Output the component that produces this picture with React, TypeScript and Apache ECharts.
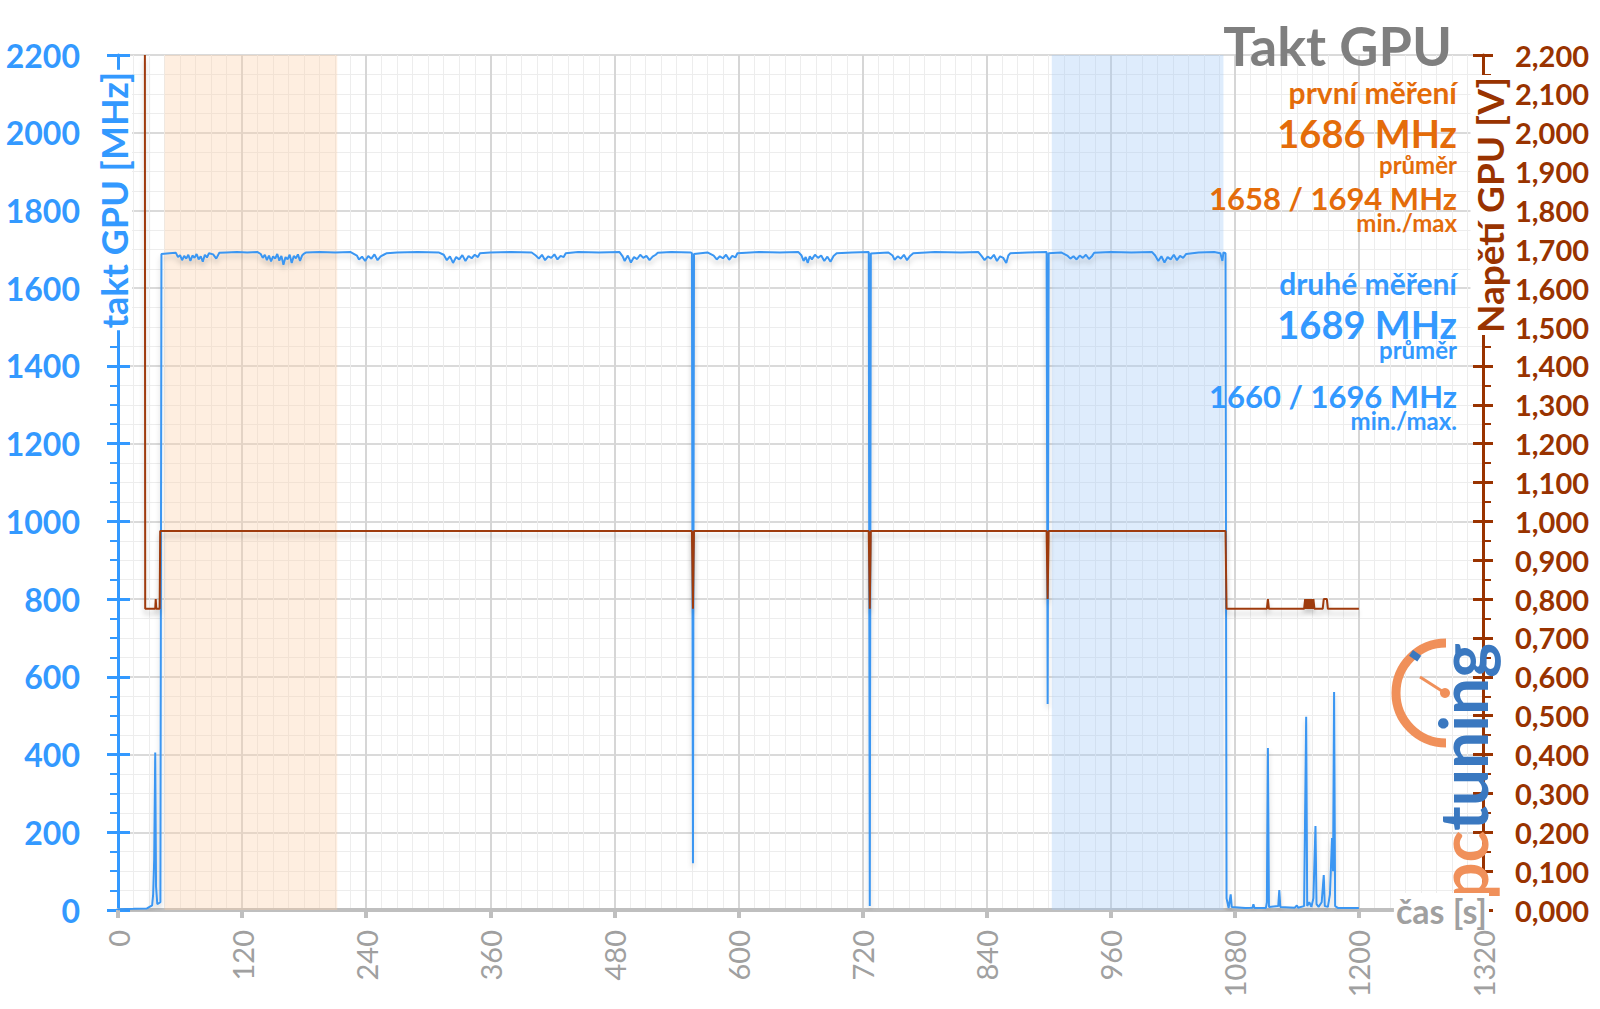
import React, { useEffect, useRef } from "react";
import * as echarts from "echarts";

const X_MAX = 1320;
const X_STEP = 120;
const CLOCK_MAX = 2200;
const CLOCK_STEP = 200;
const VOLT_MAX = 2.2;
const VOLT_STEP = 0.1;

// GPU clock [s, MHz]
const clockData: [number, number][] = [
  [0, 2], [15, 3], [28, 4], [33, 12], [34, 40], [35, 130], [36, 405], [36.8, 60], [38, 15], [41, 20], [42, 1688],
  [50, 1690], [56, 1691],
  [58, 1680], [60, 1685], [62, 1672], [64, 1683], [66, 1676], [68, 1686], [70, 1670], [72, 1684], [74, 1678],
  [76, 1688], [78, 1674], [80, 1682], [82, 1668], [84, 1686], [86, 1679], [88, 1690], [92, 1687], [95, 1676], [98, 1691],
  [105, 1692], [115, 1693], [125, 1692], [135, 1693],
  [138, 1688], [140, 1678], [142, 1686], [144, 1672], [146, 1684], [148, 1669], [150, 1682], [152, 1676], [154, 1688],
  [156, 1671], [158, 1683], [160, 1660], [162, 1680], [164, 1674], [166, 1686], [168, 1665], [170, 1683], [172, 1677],
  [174, 1687], [176, 1670], [178, 1684], [180, 1689], [182, 1692],
  [195, 1693], [210, 1692], [225, 1693],
  [231, 1684], [233, 1674], [236, 1681], [239, 1670], [242, 1683], [245, 1676], [248, 1687], [251, 1672], [254, 1682],
  [257, 1686], [260, 1690],
  [270, 1692], [290, 1693], [310, 1692],
  [315, 1686], [318, 1672], [321, 1682], [324, 1665], [327, 1680], [330, 1674], [333, 1685], [336, 1670], [339, 1683],
  [342, 1677], [345, 1686], [348, 1680], [350, 1690],
  [360, 1692], [380, 1693], [400, 1692],
  [404, 1684], [407, 1676], [410, 1686], [413, 1672], [416, 1682], [419, 1678], [422, 1687], [425, 1674], [428, 1683],
  [431, 1680], [433, 1690],
  [445, 1693], [465, 1692], [485, 1693],
  [488, 1682], [490, 1670], [493, 1684], [496, 1666], [499, 1680], [502, 1675], [505, 1686], [508, 1678], [511, 1683],
  [514, 1672], [517, 1681], [520, 1686], [522, 1691],
  [535, 1693], [554, 1692], [555, 1690], [556, 120], [557, 1688], [570, 1692],
  [576, 1684], [579, 1674], [582, 1682], [585, 1677], [588, 1686], [591, 1673], [594, 1683], [597, 1679], [599, 1690],
  [620, 1693], [640, 1692], [658, 1693],
  [661, 1684], [663, 1670], [665, 1680], [667, 1665], [669, 1682], [671, 1674], [674, 1686], [677, 1678], [680, 1684],
  [683, 1670], [686, 1681], [689, 1668], [692, 1683], [695, 1690],
  [710, 1692], [726, 1693], [727, 10], [728, 1689], [745, 1692],
  [749, 1684], [751, 1673], [754, 1682], [757, 1676], [760, 1686], [763, 1672], [766, 1683], [769, 1690],
  [790, 1693], [815, 1692], [832, 1693],
  [835, 1683], [838, 1672], [841, 1681], [844, 1676], [847, 1686], [850, 1670], [853, 1682], [856, 1678], [859, 1665],
  [861, 1684], [863, 1690],
  [880, 1692], [898, 1693], [899, 530], [900, 1690], [912, 1692],
  [918, 1684], [921, 1676], [924, 1682], [927, 1674], [930, 1684], [933, 1678], [936, 1686], [939, 1675], [942, 1683], [944, 1691],
  [960, 1693], [980, 1692], [1000, 1693],
  [1003, 1684], [1006, 1670], [1009, 1682], [1012, 1666], [1015, 1680], [1018, 1674], [1021, 1686], [1024, 1672],
  [1027, 1683], [1030, 1678], [1033, 1688],
  [1045, 1692], [1060, 1693], [1066, 1690], [1068, 1670], [1069, 1692], [1071, 1690],
  [1072, 30], [1074, 5], [1076, 40], [1077, 8], [1090, 5], [1097, 6], [1098, 15], [1099, 5], [1110, 5], [1111, 20],
  [1112, 417], [1113, 8], [1122, 10], [1123, 51], [1124, 8], [1138, 6], [1140, 12], [1141, 6], [1147, 10], [1149, 497],
  [1150, 10], [1152, 20], [1154, 8], [1156, 30], [1158, 216], [1159, 15], [1161, 8], [1164, 20], [1166, 90], [1167, 10],
  [1170, 8], [1172, 40], [1174, 185], [1175, 100], [1176, 561], [1177, 10], [1180, 5], [1200, 5],
];

// GPU voltage [s, V]
const voltData: [number, number][] = [
  [26, 2.2], [26.3, 0.775], [36, 0.775], [36.5, 0.8], [37, 0.775], [40.3, 0.775], [40.8, 0.975],
  [555, 0.975], [556, 0.775], [557, 0.975], [726, 0.975], [727, 0.775], [728, 0.975],
  [898, 0.975], [899, 0.8], [900, 0.975], [1071, 0.975], [1072, 0.775],
  [1111, 0.775], [1112, 0.8], [1113, 0.775], [1147, 0.775], [1148, 0.8], [1149, 0.775], [1150, 0.8], [1151, 0.775],
  [1152, 0.8], [1153, 0.775], [1154, 0.8], [1155, 0.775], [1156, 0.8], [1157, 0.775], [1165, 0.775], [1166, 0.8],
  [1169, 0.8], [1170, 0.775], [1200, 0.775],
];

const firstRunBand: [number, number] = [45, 212];
const secondRunBand: [number, number] = [903, 1069];

const firstRunTexts = ["první měření", "1686 MHz", "průměr", "1658 / 1694 MHz", "min./max"];
const secondRunTexts = ["druhé měření", "1689 MHz", "průměr", "1660 / 1696 MHz", "min./max."];

const BLUE = "#3399ff";
const LINE_BLUE = "#3a96f2";
const ORANGE = "#e46c0a";
const BROWN = "#993300";
const GRAY = "#a0a0a0";
const FONT = "Lato, 'Open Sans', sans-serif";

export default function App() {
  const ref = useRef<HTMLDivElement>(null);
  useEffect(() => {
    if (!ref.current) return;
    const chart = echarts.init(ref.current, undefined, { renderer: "svg" });
    const sizes = [30, 38, 24, 31, 24];
    const firstY = [92, 133, 164, 198, 222];
    const secondY = [283, 324, 349, 396, 420];
    const textEl = (t: string, y: number, size: number, color: string) => ({
      type: "text",
      x: 1457,
      y,
      z: 100,
      style: { text: t, fill: color, font: `bold ${size}px ${FONT}`, align: "right", verticalAlign: "middle" },
    });
    const graphic: any[] = [
      {
        type: "text", x: 1452, y: 45, z: 100,
        style: { text: "Takt GPU", fill: "#7f7f7f", font: `bold 54px ${FONT}`, align: "right", verticalAlign: "middle" },
      },
      ...firstRunTexts.map((t, i) => textEl(t, firstY[i], sizes[i], ORANGE)),
      ...secondRunTexts.map((t, i) => textEl(t, secondY[i], sizes[i], BLUE)),
      {
        type: "text", x: 114, y: 200, rotation: Math.PI / 2, z: 100,
        style: {
          text: "takt GPU [MHz]", fill: BLUE, font: `bold 36px ${FONT}`, align: "center", verticalAlign: "middle",
          backgroundColor: "#ffffff", padding: [0, 2],
        },
      },
      {
        type: "text", x: 1489, y: 205, rotation: Math.PI / 2, z: 100,
        style: {
          text: "Napětí GPU [V]", fill: BROWN, font: `bold 37px ${FONT}`, align: "center", verticalAlign: "middle",
          backgroundColor: "#ffffff", padding: [0, 2],
        },
      },
      {
        type: "text", x: 1489, y: 910, z: 100,
        style: {
          text: "čas [s]", fill: GRAY, font: `bold 34px ${FONT}`, align: "right", verticalAlign: "middle",
          backgroundColor: "#ffffff", padding: [0, 2],
        },
      },
      {
        type: "arc", z: 90,
        shape: { cx: 1446, cy: 693, r: 50, startAngle: Math.PI / 2, endAngle: (3 * Math.PI) / 2, clockwise: true },
        style: { stroke: "#f0905a", lineWidth: 9, fill: "none" },
      },
      {
        type: "rect", z: 91, x: 1413, y: 650, rotation: -0.6,
        shape: { x: 0, y: 0, width: 10, height: 7 },
        style: { fill: "#3a78c0" },
      },
      {
        type: "line", z: 91,
        shape: { x1: 1420, y1: 677, x2: 1445, y2: 693 },
        style: { stroke: "#f0905a", lineWidth: 3 },
      },
      { type: "circle", z: 91, shape: { cx: 1445, cy: 693, r: 5 }, style: { fill: "#f0905a" } },
      {
        type: "text", x: 1462, y: 900, rotation: Math.PI / 2, z: 92,
        style: {
          text: "{a|pc}{b|tuning}",
          align: "left",
          verticalAlign: "middle",
          rich: {
            a: { fill: "#f0905a", font: `bold 66px ${FONT}` },
            b: { fill: "#3a78c0", font: `bold 66px ${FONT}` },
          },
        },
      },
    ];

    chart.setOption({
      animation: false,
      backgroundColor: "#ffffff",
      grid: { left: 118, right: 117, top: 55, bottom: 99, containLabel: false },
      xAxis: {
        type: "value",
        min: 0,
        max: X_MAX,
        interval: X_STEP,
        axisLine: { show: true, lineStyle: { color: "#bfbfbf", width: 4 } },
        axisTick: { show: true, length: 8, lineStyle: { color: "#bfbfbf", width: 4 } },
        minorTick: { show: false, splitNumber: 8 },
        axisLabel: {
          rotate: 90, color: GRAY, fontSize: 29, fontFamily: FONT, margin: 20,
          formatter: (v: number) => String(v),
        },
        splitLine: { show: true, lineStyle: { color: "#d6d6d6", width: 2 } },
        minorSplitLine: { show: true, lineStyle: { color: "#ededed", width: 1 } },
      },
      yAxis: [
        {
          type: "value",
          position: "left",
          min: 0,
          max: CLOCK_MAX,
          interval: CLOCK_STEP,
          axisLine: { show: true, lineStyle: { color: BLUE, width: 3 } },
          axisTick: { show: true, length: 11, lineStyle: { color: BLUE, width: 3 } },
          minorTick: { show: true, splitNumber: 4, length: 8, lineStyle: { color: BLUE, width: 2 } },
          axisLabel: {
            color: BLUE, fontSize: 32, fontWeight: "bold", fontFamily: FONT, margin: 38,
            formatter: (v: number) => String(v),
          },
          splitLine: { show: true, lineStyle: { color: "#dadada", width: 2 } },
          minorSplitLine: { show: true, lineStyle: { color: "#ededed", width: 1 } },
        },
        {
          type: "value",
          position: "right",
          min: 0,
          max: VOLT_MAX,
          interval: VOLT_STEP,
          axisLine: { show: true, lineStyle: { color: BROWN, width: 3 } },
          axisTick: { show: true, length: 10, lineStyle: { color: BROWN, width: 3 } },
          minorTick: { show: true, splitNumber: 2, length: 8, lineStyle: { color: BROWN, width: 2 } },
          axisLabel: {
            color: BROWN, fontSize: 29, fontWeight: "bold", fontFamily: FONT, margin: 32,
            formatter: (v: number) => v.toFixed(3).replace(".", ","),
          },
          splitLine: { show: false },
        },
        {
          type: "value",
          position: "left",
          min: 0,
          max: CLOCK_MAX,
          interval: CLOCK_STEP,
          axisLine: { show: false },
          axisTick: { show: true, inside: true, length: 12, lineStyle: { color: BLUE, width: 3 } },
          axisLabel: { show: false },
          splitLine: { show: false },
        },
        {
          type: "value",
          position: "right",
          min: 0,
          max: VOLT_MAX,
          interval: VOLT_STEP,
          axisLine: { show: false },
          axisTick: { show: true, inside: true, length: 10, lineStyle: { color: BROWN, width: 3 } },
          axisLabel: { show: false },
          splitLine: { show: false },
        },
      ],
      series: [
        {
          type: "line",
          name: "takt GPU",
          yAxisIndex: 0,
          data: clockData,
          showSymbol: false,
          symbol: "none",
          lineStyle: { color: LINE_BLUE, width: 2, shadowColor: "rgba(0,0,0,0.18)", shadowBlur: 5, shadowOffsetY: 4 },
          z: 3,
          markArea: {
            silent: true,
            data: [
              [{ xAxis: firstRunBand[0], itemStyle: { color: "rgba(252,205,165,0.35)" } }, { xAxis: firstRunBand[1] }],
              [{ xAxis: secondRunBand[0], itemStyle: { color: "rgba(160,200,245,0.35)" } }, { xAxis: secondRunBand[1] }],
            ],
          },
        },
        {
          type: "line",
          name: "Napětí GPU",
          yAxisIndex: 1,
          data: voltData,
          showSymbol: false,
          symbol: "none",
          lineStyle: { color: "#9e3a0c", width: 2, shadowColor: "rgba(0,0,0,0.2)", shadowBlur: 5, shadowOffsetY: 5 },
          z: 4,
        },
      ],
      graphic,
    });
    return () => chart.dispose();
  }, []);
  return <div ref={ref} style={{ position: "fixed", left: 0, top: 0, width: 1600, height: 1009 }} />;
}
